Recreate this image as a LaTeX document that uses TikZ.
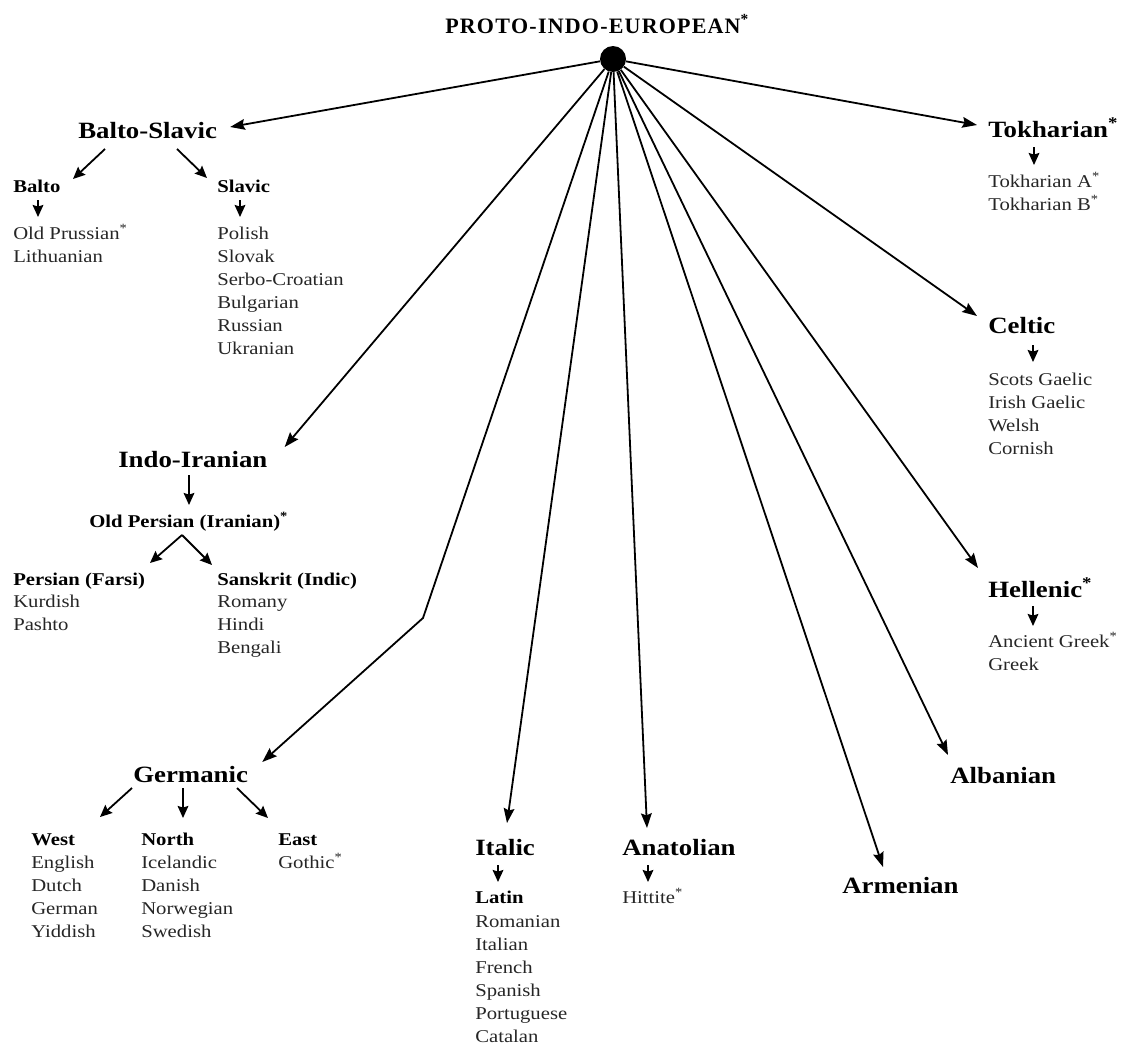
\documentclass[tikz,border=0pt]{standalone}
\usepackage{fontspec}
\setmainfont{Liberation Serif}[FakeStretch=1.15]
\newfontfamily\titlefont{Liberation Serif}
\usetikzlibrary{arrows.meta}
\newcommand\ls{\kern0.9pt}
\newcommand\sast{\textsuperscript{*}}
% a list of names whose baseline is that of its first line
\newcommand\namelist[1]{\begin{tabular}[t]{@{}l@{}}#1\end{tabular}}
\begin{document}
\begin{tikzpicture}[x=0.75pt,y=-0.75pt,
  every node/.style={inner sep=0pt, anchor=base west},
  title/.style={font=\titlefont\fontsize{16.5}{18}\selectfont\bfseries},
  family/.style={font=\fontsize{17.5}{19}\selectfont\bfseries},
  branch/.style={font=\fontsize{13.5}{15}\selectfont\bfseries},
  langs/.style={font=\fontsize{13.5}{17.25}\selectfont, text=black!85},
  arr/.style={line width=1.35pt, -{Stealth[length=11pt,width=8pt,inset=1.5pt]}},
  sarr/.style={line width=1.35pt, -{Stealth[length=9pt,width=8pt,inset=1.2pt]}},
  root/.style={circle, fill=black, minimum size=19.5pt, anchor=center}]
\useasboundingbox (0,0) rectangle (1123,1046);

% root of the tree
\node[title] (title) at (445,33) {P\ls R\ls O\ls T\ls O\ls -\ls I\ls N\ls D\ls O\ls -\ls E\ls U\ls R\ls O\ls P\ls E\ls A\ls N\sast};
\node[root] (pie) at (613,59) {};

% language families
\node[family] (bs)  at (78,138)  {Balto-Slavic};
\node[family] (tok) at (988,137) {Tokharian\sast};
\node[family] (ii)  at (118,467) {Indo-Iranian};
\node[family] (cel) at (988,333) {Celtic};
\node[family] (hel) at (988,597) {Hellenic\sast};
\node[family] (alb) at (950,783) {Albanian};
\node[family] (arm) at (842,893) {Armenian};
\node[family] (ger) at (133,782) {Germanic};
\node[family] (ita) at (475,855) {Italic};
\node[family] (ana) at (622,855) {Anatolian};

% branches
\node[branch] (balto)    at (13,192)  {Balto};
\node[branch] (slavic)   at (217,192) {Slavic};
\node[branch] (opi)      at (89,527)  {Old Persian (Iranian)\sast};
\node[branch] (persian)  at (13,585)  {Persian (Farsi)};
\node[branch] (sanskrit) at (217,585) {Sanskrit (Indic)};
\node[branch] (west)     at (31,845)  {West};
\node[branch] (north)    at (141,845) {North};
\node[branch] (east)     at (278,845) {East};
\node[branch] (latin)    at (475,903) {Latin};

% languages
\node[langs] (op)  at (13,239)  {\namelist{Old Prussian\sast\\Lithuanian}};
\node[langs] (pol) at (217,239) {\namelist{Polish\\Slovak\\Serbo-Croatian\\Bulgarian\\Russian\\Ukranian}};
\node[langs] (ta)  at (988,187) {\namelist{Tokharian A\sast\\Tokharian B\sast}};
\node[langs] (sg)  at (988,385) {\namelist{Scots Gaelic\\Irish Gaelic\\Welsh\\Cornish}};
\node[langs] (ag)  at (988,647) {\namelist{Ancient Greek\sast\\Greek}};
\node[langs] (kur) at (13,607)  {\namelist{Kurdish\\Pashto}};
\node[langs] (rom) at (217,607) {\namelist{Romany\\Hindi\\Bengali}};
\node[langs] (eng) at (31,868)  {\namelist{English\\Dutch\\German\\Yiddish}};
\node[langs] (ice) at (141,868) {\namelist{Icelandic\\Danish\\Norwegian\\Swedish}};
\node[langs] (got) at (278,868) {\namelist{Gothic\sast}};
\node[langs] (rmn) at (475,927) {\namelist{Romanian\\Italian\\French\\Spanish\\Portuguese\\Catalan}};
\node[langs] (hit) at (622,903) {\namelist{Hittite\sast}};

% connectors from the root
\coordinate (bend) at (423,618);
\draw[arr] (pie) -- ([shift={(13,-11)}]bs.base east);
\draw[arr] (pie) -- ([shift={(-11,-12)}]tok.base west);
\draw[arr] (pie) -- ([shift={(-11,-17)}]cel.base west);
\draw[arr] (pie) -- ([shift={(-10,-29)}]hel.base west);
\draw[arr] (pie) -- ([shift={(-2,-28)}]alb.base west);
\draw[arr] (pie) -- ([shift={(41,-26)}]arm.base west);
\draw[arr] (pie) -- ([shift={(25,-27)}]ana.base west);
\draw[arr] (pie) -- ([shift={(32,-32)}]ita.base west);
\draw[arr] (pie) -- ([shift={(17,-20)}]ii.base east);
\draw[arr] (pie) -- (bend) -- ([shift={(14,-20)}]ger.base east);

% Balto-Slavic
\draw[sarr] ([shift={(27,11)}]bs.base west) -- ([shift={(60,-13)}]balto.base west);
\draw[sarr] ([shift={(99,11)}]bs.base west) -- ([shift={(-10,-14)}]slavic.base west);
\draw[sarr] ([shift={(25,8)}]balto.base west) -- ([shift={(25,-22)}]op.base west);
\draw[sarr] ([shift={(23,8)}]slavic.base west) -- ([shift={(23,-22)}]pol.base west);

% Tokharian, Celtic, Hellenic
\draw[sarr] ([shift={(46,10)}]tok.base west) -- ([shift={(46,-22)}]ta.base west);
\draw[sarr] ([shift={(45,12)}]cel.base west) -- ([shift={(45,-23)}]sg.base west);
\draw[sarr] ([shift={(45,9)}]hel.base west) -- ([shift={(45,-21)}]ag.base west);

% Indo-Iranian
\draw[sarr] ([shift={(71,8)}]ii.base west) -- ([shift={(100,-22)}]opi.base west);
\draw[sarr] ([shift={(93,8)}]opi.base west) -- ([shift={(137,-22)}]persian.base west);
\draw[sarr] ([shift={(93,8)}]opi.base west) -- ([shift={(-5,-20)}]sanskrit.base west);

% Germanic
\draw[sarr] ([shift={(-1,6)}]ger.base west) -- ([shift={(69,-28)}]west.base west);
\draw[sarr] ([shift={(50,6)}]ger.base west) -- ([shift={(42,-27)}]north.base west);
\draw[sarr] ([shift={(104,6)}]ger.base west) -- ([shift={(-10,-27)}]east.base west);

% Italic, Anatolian
\draw[sarr] ([shift={(23,10)}]ita.base west) -- ([shift={(23,-21)}]latin.base west);
\draw[sarr] ([shift={(26,10)}]ana.base west) -- ([shift={(26,-21)}]hit.base west);
\end{tikzpicture}
\end{document}
